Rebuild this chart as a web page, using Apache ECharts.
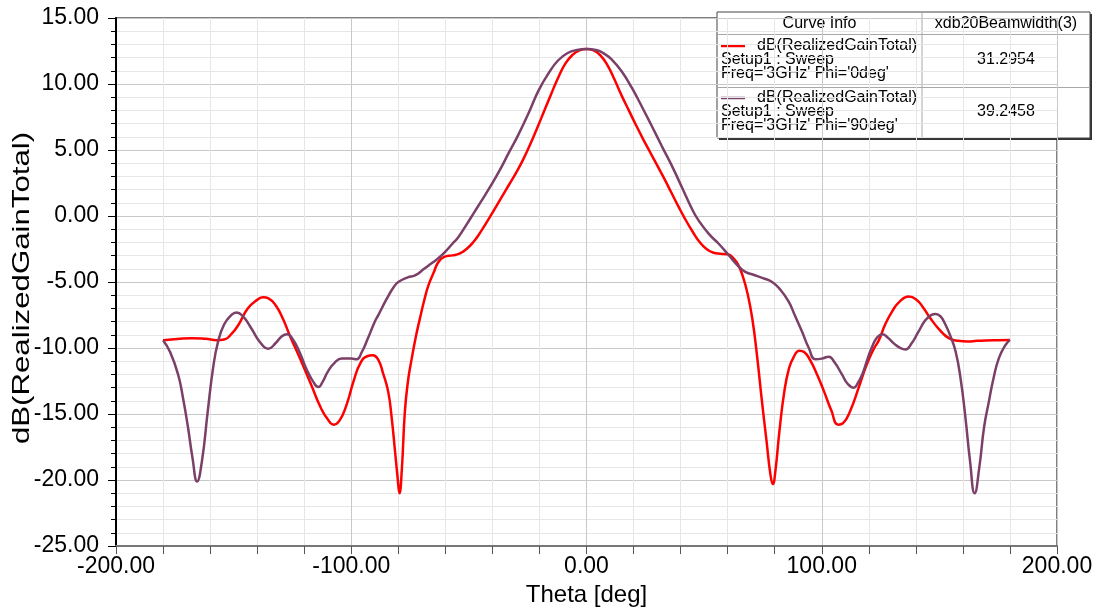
<!DOCTYPE html>
<html>
<head>
<meta charset="utf-8">
<script src="https://cdn.jsdelivr.net/npm/echarts@6/dist/echarts.min.js"></script>
<style>
html,body{margin:0;padding:0;background:#fff;}
#chart{width:1099px;height:612px;}
</style>
</head>
<body>
<div id="chart"></div>
<script>
// ---- data (Theta [deg], dB(RealizedGainTotal)) ----
const phi0 = [
  [-180,-9.4],[-174,-9.32],[-168,-9.25],[-162,-9.3],[-157,-9.4],[-154,-9.35],[-151,-8.95],[-148,-8.25],
  [-144,-7.0],[-140,-6.35],[-137.5,-6.15],[-135,-6.25],[-132,-6.8],[-129,-7.8],[-126,-9.1],[-122,-10.7],
  [-117,-12.8],[-113,-14.5],[-110,-15.4],[-107.5,-15.8],[-105,-15.5],[-102,-14.3],[-99,-12.5],[-96,-11.1],
  [-93,-10.6],[-91,-10.55],[-88.5,-10.9],[-86.5,-11.9],[-84.3,-13.3],[-82.8,-15.3],[-81.4,-17.8],[-80.3,-19.8],
  [-79.5,-21.0],[-78.5,-19.2],[-77.2,-14.8],[-75.8,-12.4],[-74.3,-10.8],[-72.5,-9.1],[-70.8,-7.75],[-69,-6.4],
  [-67.2,-5.25],[-65,-4.3],[-63,-3.5],[-60.5,-3.1],[-57,-2.98],[-54,-2.85],[-51,-2.5],[-48,-1.95],
  [-45,-1.2],[-42,-0.35],[-39,0.55],[-36,1.45],[-33,2.35],[-30,3.25],[-27,4.25],[-24,5.4],
  [-21,6.65],[-18,7.95],[-15,9.25],[-12,10.5],[-9,11.55],[-6,12.2],[-3,12.55],[0,12.65],
  [3,12.55],[6,12.15],[9,11.4],[12,10.3],[15,9.1],[18,8.0],[21,6.9],[24,5.85],
  [27,4.85],[30,3.85],[33,2.85],[36,1.8],[39,0.75],[42,-0.25],[45,-1.15],[48,-1.95],
  [51,-2.5],[54,-2.78],[57,-2.85],[60,-2.9],[62.5,-3.2],[64.5,-3.7],[66.5,-4.6],[68.5,-5.9],
  [70.5,-7.8],[72.5,-10.6],[74.5,-13.9],[76.5,-17.0],[78.2,-19.6],[79.2,-20.3],[80.3,-19.3],[82,-16.3],
  [84,-13.4],[86,-11.6],[88,-10.7],[90.5,-10.2],[92.5,-10.3],[95,-10.9],[98,-12.0],[101,-13.3],
  [104,-14.7],[107,-15.8],[109,-15.7],[112,-14.8],[115.7,-13.0],[119,-11.3],[122,-10.1],[124.3,-9.4],
  [127,-8.2],[130,-7.2],[133,-6.5],[137,-6.1],[140,-6.3],[143,-6.9],[146,-7.7],[150,-8.6],
  [154,-9.25],[158,-9.45],[162,-9.5],[166,-9.45],[170,-9.42],[175,-9.4],[180,-9.38]
];
const phi90 = [
  [-180,-9.4],[-177,-10.3],[-173.6,-12.0],[-171.5,-13.8],[-169.4,-16.0],[-167.5,-18.3],[-165.5,-20.1],[-163.5,-18.6],
  [-161,-14.8],[-158.8,-11.6],[-156.6,-9.5],[-154,-8.2],[-151,-7.5],[-148.8,-7.3],[-146,-7.6],[-142.5,-8.5],
  [-139,-9.5],[-135.3,-10.05],[-132,-9.6],[-129.5,-9.1],[-127.2,-8.95],[-125,-9.3],[-122,-10.3],[-119,-11.6],
  [-116,-12.6],[-114,-12.95],[-112,-12.5],[-110,-11.8],[-107,-11.1],[-104,-10.8],[-100,-10.8],[-97.7,-10.85],
  [-95.5,-10.3],[-93,-9.3],[-90,-8.0],[-88.5,-7.5],[-85,-6.3],[-82,-5.4],[-80,-5.0],[-76,-4.65],
  [-72.9,-4.5],[-69,-4.0],[-66,-3.6],[-63,-3.2],[-60,-2.7],[-57,-2.1],[-54.5,-1.6],[-51,-0.65],
  [-48,0.2],[-45,1.05],[-41.5,2.05],[-37.4,3.3],[-33,4.8],[-29,6.15],[-24.5,7.85],[-20.4,9.5],
  [-16,10.85],[-12,11.8],[-8,12.35],[-4,12.58],[0,12.65],[4,12.58],[7.5,12.3],[10.8,11.84],
  [15,10.95],[19.3,9.7],[23.5,8.3],[27.8,6.8],[32,5.3],[36.3,3.8],[40.5,2.2],[44.8,0.55],
  [47.7,-0.35],[52,-1.35],[56.2,-2.1],[60.4,-2.95],[64,-3.7],[67.5,-4.23],[71,-4.45],[75,-4.7],
  [78.9,-5.0],[82.5,-5.6],[86,-6.5],[88.5,-7.5],[91.6,-8.75],[94.5,-10.0],[97.3,-10.85],[100,-10.8],
  [103,-10.65],[105.5,-11.1],[108.6,-12.0],[111,-12.7],[113.6,-13.0],[115.5,-12.6],[117.2,-12.0],[119.5,-10.8],
  [121.4,-9.9],[123.5,-9.2],[125.7,-8.95],[128,-9.2],[131,-9.7],[133.5,-10.0],[135.6,-10.1],[138,-9.7],
  [141,-8.8],[144,-7.9],[146.5,-7.5],[148.4,-7.42],[150.5,-7.6],[152.5,-8.2],[154.5,-9.0],[156.9,-10.26],
  [159,-12.3],[161.1,-15.3],[163,-18.5],[165,-21.0],[167,-19.0],[169,-16.0],[171.1,-14.0],[173,-12.3],
  [175.3,-10.76],[178,-9.8],[180,-9.38]
];
const legendHeader = ['Curve Info', 'xdb20Beamwidth(3)'];
const curveInfo = [
  ['dB(RealizedGainTotal)', 'Setup1 : Sweep', "Freq='3GHz' Phi='0deg'"],
  ['dB(RealizedGainTotal)', 'Setup1 : Sweep', "Freq='3GHz' Phi='90deg'"]
];
const beamwidth = ['31.2954', '39.2458'];
const colors = ['#ff0000', '#7b4068'];
const xTitle = 'Theta [deg]';
const yTitle = 'dB(RealizedGainTotal)';

const FONT = '"Liberation Sans", Arial, sans-serif';
const chart = echarts.init(document.getElementById('chart'));

// legend table graphic
const bx = 717, by = 12, bw = 373, bh = 126, colX = 922, r1 = 34.5, r2 = 87.5;
const lg = [];
lg.push({type:'rect', shape:{x:bx+2, y:by+2, width:bw, height:bh}, style:{fill:'#333', stroke:null}});
lg.push({type:'rect', shape:{x:bx, y:by, width:bw, height:bh}, style:{fill:'#fff', stroke:'#444', lineWidth:1}});
lg.push({type:'line', shape:{x1:colX, y1:by, x2:colX, y2:by+bh}, style:{stroke:'#a8a8a8', lineWidth:1}});
lg.push({type:'line', shape:{x1:bx, y1:r1, x2:bx+bw, y2:r1}, style:{stroke:'#a8a8a8', lineWidth:1}});
lg.push({type:'line', shape:{x1:bx, y1:r2, x2:bx+bw, y2:r2}, style:{stroke:'#a8a8a8', lineWidth:1}});
const txt = (t, x, y, align) => ({type:'text', style:{text:t, x:x, y:y, font:'16px ' + FONT, fill:'#000', stroke:null, lineWidth:0, textAlign:align, textVerticalAlign:'middle'}});
lg.push(txt(legendHeader[0], (bx+colX)/2, 24, 'center'));
lg.push(txt(legendHeader[1], (colX+bx+bw)/2, 24, 'center'));
[46, 98].forEach((y0, i) => {
  lg.push({type:'line', shape:{x1:721, y1:y0, x2:745, y2:y0}, style:{stroke:colors[i], lineWidth:2.5}});
  lg.push(txt(curveInfo[i][0], 757, y0, 'left'));
  lg.push(txt(curveInfo[i][1], 721, y0+14, 'left'));
  lg.push(txt(curveInfo[i][2], 721, y0+28, 'left'));
  lg.push(txt(beamwidth[i], (colX+bx+bw)/2, y0+14, 'center'));
});

// stretched y-axis title (rotated)
const yTitleGraphic = {type:'text', x:22, y:288, rotation:Math.PI/2, scaleX:1.3, scaleY:1,
  style:{text:yTitle, x:0, y:0, font:'24px ' + FONT, fill:'#000', textAlign:'center', textVerticalAlign:'middle'}};

const fmt = v => v.toFixed(2);
chart.setOption({
  animation:false,
  backgroundColor:'#fff',
  grid:{left:116, right:42, top:18, bottom:63, show:true, borderColor:'#555', borderWidth:1.5, containLabel:false},
  xAxis:{
    type:'value', min:-200, max:200, interval:100,
    name:xTitle, nameLocation:'middle', nameGap:33,
    nameTextStyle:{fontFamily:FONT, fontSize:24, color:'#000'},
    axisLine:{show:true, onZero:false, lineStyle:{color:'#777', width:2}},
    axisTick:{show:true, inside:false, length:8, lineStyle:{color:'#555', width:1}},
    minorTick:{show:true, splitNumber:5, length:8, lineStyle:{color:'#555', width:1}},
    axisLabel:{formatter:fmt, fontFamily:FONT, fontSize:23, color:'#000', margin:9},
    splitLine:{show:true, lineStyle:{color:'#c8c8c8', width:1}},
    minorSplitLine:{show:true, lineStyle:{color:'#e6e6e6', width:1}}
  },
  yAxis:{
    type:'value', min:-25, max:15, interval:5,
    axisLine:{show:true, onZero:false, lineStyle:{color:'#000', width:2}},
    axisTick:{show:true, inside:false, length:8, lineStyle:{color:'#000', width:1}},
    minorTick:{show:true, splitNumber:5, length:5, lineStyle:{color:'#000', width:1}},
    axisLabel:{formatter:fmt, fontFamily:FONT, fontSize:23, color:'#000', margin:17},
    splitLine:{show:true, lineStyle:{color:'#c8c8c8', width:1}},
    minorSplitLine:{show:true, lineStyle:{color:'#e6e6e6', width:1}}
  },
  series:[
    {name:curveInfo[0].join(' '), type:'line', data:phi0, showSymbol:false, smooth:0.5,
     lineStyle:{color:colors[0], width:2.5}, itemStyle:{color:colors[0]}, z:3},
    {name:curveInfo[1].join(' '), type:'line', data:phi90, showSymbol:false, smooth:0.5,
     lineStyle:{color:colors[1], width:2.5}, itemStyle:{color:colors[1]}, z:4}
  ],
  graphic:[yTitleGraphic, {type:'group', z:100, children:lg}]
});
</script>
</body>
</html>
